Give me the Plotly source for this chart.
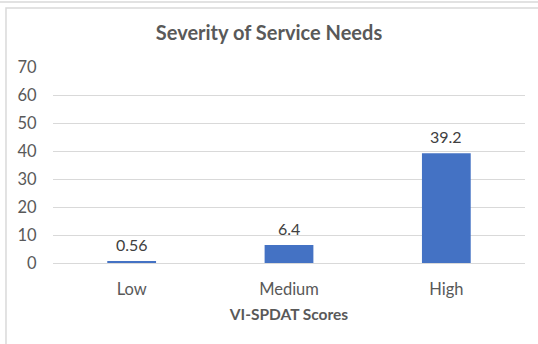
import plotly.graph_objects as go

categories = ["Low", "Medium", "High"]
values = [0.56, 6.4, 39.2]
value_labels = ["0.56", "6.4", "39.2"]
y_ticks = [0, 10, 20, 30, 40, 50, 60, 70]

FONT = "Lato, 'Open Sans', sans-serif"
TEXT = "#595959"

fig = go.Figure(
    go.Bar(
        x=categories,
        y=values,
        marker=dict(color="#4472C4", line=dict(width=0)),
    )
)

# value labels above each bar
for cat, val, lab in zip(categories, values, value_labels):
    fig.add_annotation(
        x=cat, y=val, text=lab, showarrow=False,
        yanchor="middle", yshift=17,
        font=dict(family=FONT, size=16, color="#404040"),
    )

# chart frame
fig.add_shape(type="line", xref="paper", yref="paper", x0=-0.2, x1=1.2, y0=1.332, y1=1.332,
              line=dict(color="#d9d9d9", width=1.5))
fig.add_shape(type="rect", xref="paper", yref="paper", x0=-0.0996, x1=1.2, y0=1.301, y1=-0.6,
              line=dict(color="#d9d9d9", width=1.5), fillcolor="rgba(0,0,0,0)")

fig.update_layout(
    width=538,
    height=344,
    margin=dict(l=53, r=13, t=67, b=81),
    paper_bgcolor="white",
    plot_bgcolor="white",
    bargap=0.69,
    showlegend=False,
    font=dict(family=FONT, color=TEXT),
    title=dict(
        text="<b>Severity of Service Needs</b>",
        x=0.5, xanchor="center",
        y=1 - 33 / 344, yanchor="middle",
        font=dict(family=FONT, size=20, color=TEXT),
    ),
    xaxis=dict(
        showgrid=False,
        showline=False,
        ticks="",
        ticklabelstandoff=14,
        tickfont=dict(family=FONT, size=16.5, color=TEXT),
        title=dict(text="<b>VI-SPDAT Scores</b>", font=dict(family=FONT, size=15.5, color=TEXT), standoff=11),
    ),
    yaxis=dict(
        range=[0, 70],
        tickvals=y_ticks,
        showgrid=True,
        gridcolor="#d9d9d9",
        gridwidth=1,
        zeroline=True,
        zerolinecolor="#d9d9d9",
        zerolinewidth=1,
        showline=False,
        ticks="outside",
        ticklen=12,
        tickcolor="white",
        tickfont=dict(family=FONT, size=16.5, color=TEXT),
    ),
)

fig.write_html("out.html")
